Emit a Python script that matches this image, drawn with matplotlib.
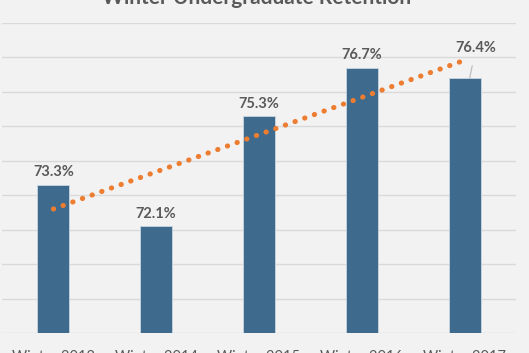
import numpy as np
import matplotlib.pyplot as plt

plt.rcParams['font.family'] = ['Lato', 'DejaVu Sans']

years = ['Winter 2013', 'Winter 2014', 'Winter 2015', 'Winter 2016', 'Winter 2017']
retention = [73.3, 72.1, 75.3, 76.7, 76.4]

W, H = 529, 353
fig = plt.figure(figsize=(W / 100, H / 100), dpi=100, facecolor='#f2f2f2')
ax = fig.add_axes([2 / W, 20 / H, 514 / W, 310 / H])
ax.set_facecolor('#f2f2f2')

x = np.arange(len(years))
ax.bar(x, [v - 69 for v in retention], bottom=69, width=0.31,
       color='#3d6a8d', edgecolor='#c9d6e0', linewidth=0.6, zorder=2)

# linear trendline
k, b = np.polyfit(x, retention, 1)
ax.plot(x, k * x + b, color='#ed7d31', linestyle=(0, (0.05, 1.95)),
        linewidth=3.7, dash_capstyle='round', zorder=3)

for i, v in enumerate(retention):
    if i == 4:
        ax.annotate(f'{v}%', xy=(i + 0.05, v + 0.01), xytext=(i + 0.11, v + 0.88),
                    ha='center', va='center', fontsize=10.5, fontweight='bold',
                    color='#595959',
                    arrowprops=dict(arrowstyle='-', color='#bfbfbf', lw=0.9,
                                    shrinkA=6, shrinkB=0))
    else:
        ax.text(i, v + 0.36, f'{v}%', ha='center', va='center', fontsize=10.5,
                fontweight='bold', color='#595959')

ax.set_xlim(-0.5, 4.5)
ax.set_ylim(69, 78)
ax.set_yticks(np.arange(69, 79, 1))
ax.yaxis.grid(True, color='#d9d9d9', linewidth=1)
ax.set_axisbelow(True)
ax.tick_params(axis='y', left=False, labelleft=False)
ax.tick_params(axis='x', length=0, pad=12, labelsize=10.5, labelcolor='#595959')
ax.set_xticks(x)
ax.set_xticklabels(years)
for s in ax.spines.values():
    s.set_visible(False)

fig.text(0.485, 1 - 4 / H, 'Winter Undergraduate Retention', ha='center',
         va='baseline', fontsize=15, fontweight='bold', color='#595959')

fig.savefig('out.png', dpi=100, facecolor=fig.get_facecolor())
